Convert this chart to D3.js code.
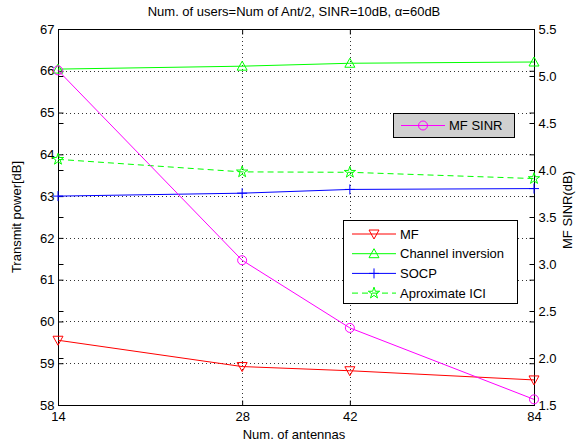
<!doctype html>
<html>
<head>
<style>
  body { margin: 0; background: #fff; }
  svg text { font-family: "Liberation Sans", Arial, sans-serif; fill: #000; }
</style>
<script src="https://d3js.org/d3.v7.min.js"></script>
</head>
<body>
<svg width="576" height="445"></svg>
<script>
// data
var antennas = [14, 28, 42, 84];
var mf = [59.55, 58.92, 58.82, 58.6];
var chanInv = [66.04, 66.11, 66.18, 66.21];
var socp = [63.0, 63.07, 63.16, 63.18];
var approxICI = [63.88, 63.58, 63.57, 63.42];
var mfSinr = [5.06, 3.04, 2.32, 1.56];
var leftTicks = [58, 59, 60, 61, 62, 63, 64, 65, 66, 67];
var rightTicks = [1.5, 2, 2.5, 3, 3.5, 4, 4.5, 5, 5.5];

var svg = d3.select("svg");
var pLeft = 58, pRight = 534, pTop = 29, pBottom = 405;
var fs = 13;

var x = d3.scaleLog().domain([14, 84]).range([pLeft, pRight]);
var yL = d3.scaleLinear().domain([58, 67]).range([pBottom, pTop]);
var yR = d3.scaleLinear().domain([1.5, 5.5]).range([pBottom, pTop]);

// grid
var grid = svg.append("g").attr("stroke", "#333").attr("stroke-dasharray", "1,3").attr("stroke-width", 1);
leftTicks.slice(1, -1).forEach(function(t) {
  grid.append("line").attr("x1", pLeft).attr("x2", pRight)
    .attr("y1", Math.round(yL(t)) + 0.5).attr("y2", Math.round(yL(t)) + 0.5);
});
antennas.slice(1, -1).forEach(function(a) {
  grid.append("line").attr("y1", pTop).attr("y2", pBottom)
    .attr("x1", Math.round(x(a)) + 0.5).attr("x2", Math.round(x(a)) + 0.5);
});

// axes
var axL = d3.axisLeft(yL).tickValues(leftTicks).tickSize(-5).tickPadding(4);
var axR = d3.axisRight(yR).tickValues(rightTicks).tickSize(-5).tickPadding(4);
var axB = d3.axisBottom(x).tickValues(antennas).tickFormat(d3.format("d")).tickSize(-5).tickPadding(6);
var axT = d3.axisTop(x).tickValues(antennas).tickFormat("").tickSize(-5);
var axLr = d3.axisRight(yL).tickValues(leftTicks).tickFormat("").tickSize(-5);
var axRl = d3.axisLeft(yR).tickValues(rightTicks).tickFormat("").tickSize(-5);

function style(g) {
  g.select(".domain").remove();
  g.selectAll("line").attr("stroke", "#000");
  g.selectAll("text").attr("font-size", fs).attr("font-family", "Liberation Sans, Arial, sans-serif");
}
svg.append("g").attr("transform", "translate(" + (pLeft + 0.5) + ",0)").call(axL).call(style);
svg.append("g").attr("transform", "translate(" + (pRight + 0.5) + ",0)").call(axR).call(style);
svg.append("g").attr("transform", "translate(0," + (pBottom + 0.5) + ")").call(axB).call(style);
svg.append("g").attr("transform", "translate(0," + (pTop + 0.5) + ")").call(axT).call(style);
svg.append("g").attr("transform", "translate(" + (pRight + 0.5) + ",0)").call(axLr).call(style);
svg.append("g").attr("transform", "translate(" + (pLeft + 0.5) + ",0)").call(axRl).call(style);

svg.append("rect").attr("x", pLeft + 0.5).attr("y", pTop + 0.5)
  .attr("width", pRight - pLeft).attr("height", pBottom - pTop)
  .attr("fill", "none").attr("stroke", "#000");

// labels
svg.append("text").attr("x", 294).attr("y", 16).attr("text-anchor", "middle")
  .attr("font-size", fs).text("Num. of users=Num of Ant/2, SINR=10dB, \u03b1=60dB");
svg.append("text").attr("x", 294).attr("y", 439).attr("text-anchor", "middle")
  .attr("font-size", fs).text("Num. of antennas");
svg.append("text").attr("transform", "translate(21,217) rotate(-90)").attr("text-anchor", "middle")
  .attr("font-size", fs).text("Transmit power[dB]");
svg.append("text").attr("transform", "translate(572,210) rotate(-90)").attr("text-anchor", "middle")
  .attr("font-size", fs).text("MF SINR(dB)");

// markers
function marker(g, type, color, cx, cy) {
  if (type === "tridown") {
    g.append("path").attr("d", "M" + (cx - 5) + "," + (cy - 4) + "L" + (cx + 5) + "," + (cy - 4) + "L" + cx + "," + (cy + 5) + "Z")
      .attr("fill", "none").attr("stroke", color);
  } else if (type === "triup") {
    g.append("path").attr("d", "M" + (cx - 5) + "," + (cy + 4) + "L" + (cx + 5) + "," + (cy + 4) + "L" + cx + "," + (cy - 5) + "Z")
      .attr("fill", "none").attr("stroke", color);
  } else if (type === "plus") {
    g.append("path").attr("d", "M" + (cx - 5) + "," + cy + "H" + (cx + 5) + "M" + cx + "," + (cy - 5) + "V" + (cy + 5))
      .attr("fill", "none").attr("stroke", color);
  } else if (type === "star") {
    g.append("path").attr("d", d3.symbol(d3.symbolStar, 40)()).attr("transform", "translate(" + cx + "," + cy + ")")
      .attr("fill", "none").attr("stroke", color);
  } else if (type === "circle") {
    g.append("circle").attr("cx", cx).attr("cy", cy).attr("r", 4.5)
      .attr("fill", "none").attr("stroke", color);
  }
}

var series = [
  {name: "MF", values: mf, y: yL, color: "#ff0000", marker: "tridown", dash: null},
  {name: "Channel inversion", values: chanInv, y: yL, color: "#00ff00", marker: "triup", dash: null},
  {name: "SOCP", values: socp, y: yL, color: "#0000ff", marker: "plus", dash: null},
  {name: "Aproximate ICI", values: approxICI, y: yL, color: "#00ff00", marker: "star", dash: "6,4"},
  {name: "MF SINR", values: mfSinr, y: yR, color: "#ff00ff", marker: "circle", dash: null}
];

series.forEach(function(s) {
  var line = d3.line().x(function(d, i) { return x(antennas[i]); }).y(function(d) { return s.y(d); });
  var g = svg.append("g");
  g.append("path").datum(s.values).attr("d", line).attr("fill", "none")
    .attr("stroke", s.color).attr("stroke-width", 1).attr("stroke-dasharray", s.dash);
  s.values.forEach(function(v, i) { marker(g, s.marker, s.color, x(antennas[i]), s.y(v)); });
});

// legend for right axis
var lg2 = svg.append("g");
lg2.append("rect").attr("x", 393.5).attr("y", 113.5).attr("width", 121).attr("height", 24)
  .attr("fill", "#d0d0d0").attr("stroke", "#000");
lg2.append("line").attr("x1", 401).attr("x2", 445).attr("y1", 125.5).attr("y2", 125.5).attr("stroke", "#ff00ff");
marker(lg2, "circle", "#ff00ff", 423, 125.5);
lg2.append("text").attr("x", 449).attr("y", 130).attr("font-size", fs).text("MF SINR");

// legend for left axis
var lg = svg.append("g");
lg.append("rect").attr("x", 343.5).attr("y", 220.5).attr("width", 174).attr("height", 83)
  .attr("fill", "#fff").attr("stroke", "#000");
series.slice(0, 4).forEach(function(s, i) {
  var cy = 234 + i * 19.7;
  lg.append("line").attr("x1", 352).attr("x2", 396).attr("y1", cy).attr("y2", cy)
    .attr("stroke", s.color).attr("stroke-dasharray", s.dash);
  marker(lg, s.marker, s.color, 374, cy);
  lg.append("text").attr("x", 400).attr("y", cy + 4.5).attr("font-size", fs).text(s.name);
});
</script>
</body>
</html>
